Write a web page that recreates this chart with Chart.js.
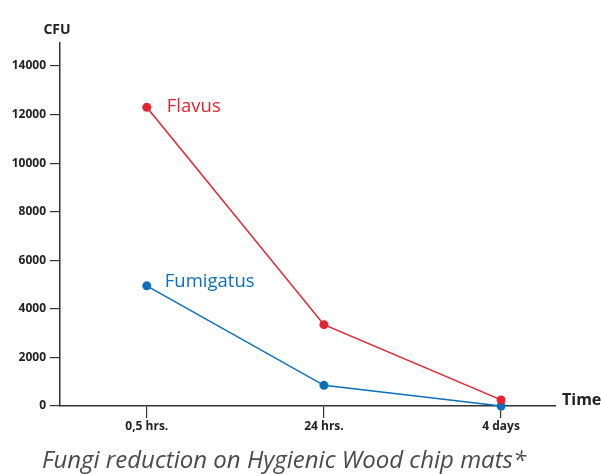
<!DOCTYPE html>
<html><head><meta charset="utf-8">
<script src="https://cdn.jsdelivr.net/npm/chart.js@4/dist/chart.umd.min.js"></script>
<style>html,body{margin:0;padding:0;background:#fff;}#wrap{width:601px;height:474px;position:relative;}</style>
</head><body><div id="wrap"><canvas id="c" width="601" height="474"></canvas></div>
<script>
const categories = ['0,5 hrs.', '24 hrs.', '4 days'];
const flavus = [12300, 3350, 250];
const fumigatus = [4950, 850, 0];
const seriesNames = ['Flavus', 'Fumigatus'];
const yTicks = [0, 2000, 4000, 6000, 8000, 10000, 12000, 14000];
const yTitle = 'CFU';
const xTitle = 'Time';
const caption = 'Fungi reduction on Hygienic Wood chip mats*';

const RED = '#e5222e', BLUE = '#0a70bb', AXIS = '#333333';
const FONT = '"Open Sans", "Noto Sans", sans-serif';

const textPlugin = {
  id: 'texts',
  afterDraw(chart) {
    const ctx = chart.ctx, xs = chart.scales.x, ys = chart.scales.y;
    ctx.save();
    ctx.textBaseline = 'middle'; ctx.textAlign = 'left';
    ctx.font = '18.5px ' + FONT;
    ctx.fillStyle = RED;
    ctx.fillText(seriesNames[0], xs.getPixelForValue(0) + 20, ys.getPixelForValue(flavus[0]) - 1);
    ctx.fillStyle = BLUE;
    ctx.fillText(seriesNames[1], xs.getPixelForValue(0) + 18, ys.getPixelForValue(fumigatus[0]) - 4);
    ctx.fillStyle = '#222';
    ctx.font = 'bold 14px ' + FONT; ctx.textAlign = 'center';
    ctx.fillText(yTitle, chart.chartArea.left - 3, 30);
    ctx.font = 'bold 16px ' + FONT; ctx.textAlign = 'left';
    ctx.fillText(xTitle, chart.chartArea.right + 6, ys.getPixelForValue(0) - 6);
    ctx.font = 'italic 24px ' + FONT; ctx.textAlign = 'center'; ctx.textBaseline = 'alphabetic';
    ctx.fillStyle = '#4a4a4a';
    ctx.fillText(caption, 284, 468);
    ctx.restore();
  }
};

new Chart(document.getElementById('c'), {
  type: 'line',
  data: {
    datasets: [
      { label: seriesNames[0], data: categories.map((c, i) => ({x: i, y: flavus[i]})),
        borderColor: RED, backgroundColor: RED, borderWidth: 1.5, pointRadius: 4.5, pointBorderWidth: 0, tension: 0 },
      { label: seriesNames[1], data: categories.map((c, i) => ({x: i, y: fumigatus[i]})),
        borderColor: BLUE, backgroundColor: BLUE, borderWidth: 1.5, pointRadius: 4.5, pointBorderWidth: 0, tension: 0 }
    ]
  },
  options: {
    responsive: false, animation: false, clip: false,
    layout: { padding: { left: 0, top: 43, right: 45, bottom: 24 } },
    plugins: { legend: { display: false }, tooltip: { enabled: false } },
    scales: {
      x: {
        type: 'linear', min: -0.49, max: 2.31,
        afterBuildTicks: s => { s.ticks = categories.map((c, i) => ({ value: i })); },
        afterFit: s => { s.height = 44; },
        ticks: { callback: (v) => categories[v], color: '#222', font: { family: FONT, weight: 'bold', size: 12 }, padding: 1, maxRotation: 0 },
        grid: { display: true, drawOnChartArea: false, drawTicks: true, tickLength: 12, color: AXIS, lineWidth: 1.2 },
        border: { display: true, color: AXIS, width: 1.5 }
      },
      y: {
        type: 'linear', min: 0, max: 14950,
        afterBuildTicks: s => { s.ticks = yTicks.map(v => ({ value: v })); },
        afterFit: s => { s.width = 60; },
        ticks: { callback: v => String(v), color: '#222', font: { family: FONT, weight: 'bold', size: 12 }, padding: 4 },
        grid: { display: true, drawOnChartArea: false, drawTicks: true, tickLength: 10, color: AXIS, lineWidth: 1.2 },
        border: { display: true, color: AXIS, width: 1.5 }
      }
    }
  },
  plugins: [textPlugin]
});
</script></body></html>
